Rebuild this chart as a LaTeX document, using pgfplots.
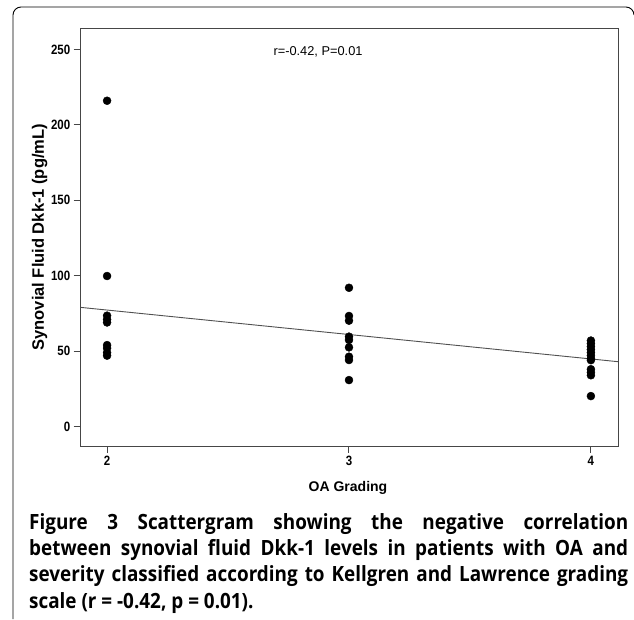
\documentclass[border=0pt]{standalone}
\usepackage{fontspec}
\setmainfont{Liberation Sans}
\newfontfamily\narrowfont[FakeStretch=0.85]{Liberation Sans}
\newfontfamily\capfont[FakeStretch=0.9]{Open Sans}
\usepackage{pgfplots}
\pgfplotsset{compat=1.18}
\definecolor{axisgray}{RGB}{70,70,70}
\definecolor{fitgray}{RGB}{80,80,80}

\begin{document}
\begin{tikzpicture}[x=1pt,y=1pt]
  \useasboundingbox (0pt,0pt) rectangle (634pt,619pt);
  % rounded frame of the figure panel
  \draw[line width=0.9pt] (13pt,0pt) -- (13pt,604pt) arc[start angle=180,end angle=90,radius=8pt]
    -- (626pt,612pt) arc[start angle=90,end angle=0,radius=8pt];
  \begin{axis}[
      at={(80.7pt,173pt)}, anchor=south west,
      scale only axis, width=537.3pt, height=417.5pt,
      xmin=1.891, xmax=4.112,
      ymin=-12.9, ymax=263.9,
      xtick={2,3,4},
      ytick={0,50,100,150,200,250},
      tick align=outside, major tick length=7pt,
      xtick pos=bottom, ytick pos=left,
      axis line style={axisgray, line width=1pt},
      every tick/.style={axisgray, line width=1pt},
      tick label style={font=\fontsize{13.5}{13.5}\selectfont\narrowfont\bfseries},
      /pgf/number format/assume math mode=true,
      xlabel={OA Grading},
      ylabel={Synovial Fluid Dkk-1 (pg/mL)},
      xlabel style={font=\fontsize{14}{14}\selectfont\bfseries,
                    at={(axis description cs:0.4975,-0.1013)}, anchor=center},
      ylabel style={font=\fontsize{16.5}{16.5}\selectfont\bfseries,
                    at={(axis description cs:-0.0765,0.5)}, anchor=center},
    ]
    % fit line
    \addplot[fitgray, line width=0.9pt] coordinates {(1.891,79) (4.112,43)};
    % observations
    \addplot[only marks, mark=*, mark size=4pt, black] coordinates {
      (2,216) (2,99.8) (2,73.5) (2,71) (2,69) (2,54) (2,52) (2,49) (2,47)
      (3,92) (3,73.3) (3,70.2) (3,59.6) (3,57.4) (3,52.5) (3,46.3) (3,44.1) (3,30.8)
      (4,57) (4,55) (4,53) (4,51) (4,49) (4,47) (4,45) (4,44) (4,38) (4,36) (4,34) (4,20.2)
    };
    \node[font=\fontsize{12.8}{13}\selectfont] at (axis cs:2.872,248.5) {r=-0.42, P=0.01};
  \end{axis}
  \node[anchor=north west, inner sep=0pt, text width=599pt, align=justify,
        font=\capfont\bfseries\fontsize{21}{26.3}\selectfont]
    at (29pt,106pt) {\hyphenpenalty=10000 \emergencystretch=20pt
      Figure 3 Scattergram showing the negative correlation\linebreak
      between synovial fluid Dkk-1 levels in patients with OA and\linebreak
      severity classified according to Kellgren and Lawrence grading\linebreak
      scale (r = -0.42, p = 0.01).};
\end{tikzpicture}
\end{document}
